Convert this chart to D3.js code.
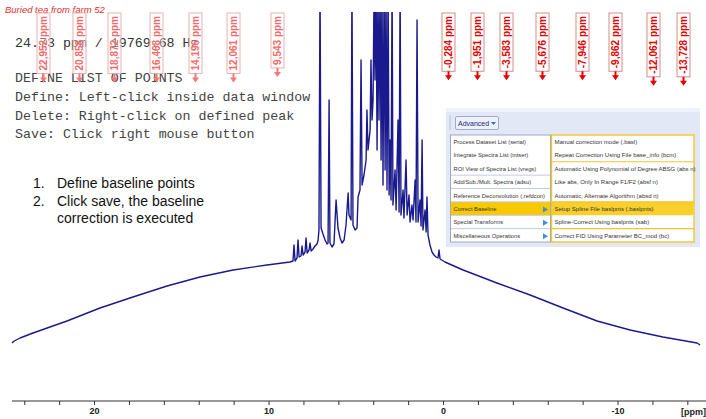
<!DOCTYPE html>
<html>
<head>
<meta charset="utf-8">
<script src="https://cdn.jsdelivr.net/npm/d3@7"></script>
<style>
	body { margin: 0; background: #fff; }
	#chart { width: 706px; height: 419px; }
	text { font-family: "Liberation Sans", Arial, sans-serif; }
	.mono { font-family: "Liberation Mono", "Courier New", monospace; }
</style>
</head>
<body>
<div id="chart"></div>
<script>
//spectrum: ppm and intensity (arbitrary units, clipped peaks given 420)
var specPpm = [24.70, 24.58, 24.24, 23.50, 21.55, 19.66, 17.77, 15.82, 13.93, 12.03, 10.09, 8.77,
	8.60, 8.54, 8.48, 8.37, 8.31, 8.25, 8.14, 8.08, 8.02, 7.91, 7.85, 7.79, 7.68, 7.62, 7.56, 7.45,
	7.34, 7.22, 7.16, 7.11, 7.05, 6.99, 6.88, 6.76, 6.65, 6.59, 6.53, 6.48, 6.36, 6.25, 6.13, 6.02,
	5.90, 5.79, 5.67, 5.56, 5.44, 5.39, 5.27, 5.22, 5.16, 5.04, 4.93, 4.87, 4.76, 4.70, 4.64, 4.53,
	4.41, 4.36, 4.30, 4.18, 4.13, 4.07, 4.01, 3.95, 3.90, 3.84, 3.78, 3.73, 3.67, 3.61, 3.55, 3.50,
	3.44, 3.38, 3.32, 3.27, 3.21, 3.15, 3.09, 3.04, 2.98, 2.92, 2.87, 2.75, 2.69, 2.58, 2.52, 2.46,
	2.41, 2.29, 2.24, 2.12, 2.06, 1.95, 1.89, 1.78, 1.72, 1.60, 1.55, 1.49, 1.43, 1.32, 1.26, 1.20,
	1.15, 1.03, 0.97, 0.92, 0.86, 0.75, 0.63, 0.52, 0.40, 0.29, 0.23, 0.17, -0.11, -1.15, -3.09,
	-4.99, -6.88, -8.83, -10.72, -12.60, -14.56, -14.73];
var specInt = [58, 60, 63, 68, 80, 93, 104, 115, 124, 131, 136, 139,
	140, 156, 140, 143, 161, 144, 145, 155, 146, 149, 163, 148, 151, 158, 150, 152,
	155, 157, 161, 171, 420, 173, 167, 161, 157, 158, 301, 158, 154, 157, 201, 173,
	163, 158, 161, 176, 208, 186, 181, 420, 176, 171, 173, 204, 211, 341, 216, 226,
	241, 291, 251, 271, 341, 281, 301, 420, 321, 420, 251, 420, 281, 420, 241, 420,
	216, 420, 231, 420, 211, 420, 206, 261, 201, 420, 196, 231, 191, 281, 189, 420,
	186, 211, 183, 241, 186, 206, 179, 196, 181, 221, 179, 381, 179, 201, 175, 261,
	171, 191, 169, 204, 166, 156, 149, 146, 144, 143, 151, 142, 139, 131, 118,
	106, 93, 80, 71, 64, 58, 56];

//peak picking markers
var leftMarkers = [22.952, 20.858, 18.872, 16.468, 14.196, 12.061, 9.543];
var rightMarkers = [-0.284, -1.951, -3.583, -5.676, -7.946, -9.862, -12.061, -13.728];

//axis
var tickPpm = [24, 22, 20, 18, 16, 14, 12, 10, 8, 6, 4, 2, 0, -2, -4, -6, -8, -10, -12, -14];
var tickLabels = [20, 10, 0, -10];

//texts
var titleText = 'Buried tea from farm 52';
var rangeText = '24.73 ppm / 19769.68 Hz';
var instructions = ['DEFINE LIST OF POINTS', 'Define: Left-click inside data window',
	'Delete: Right-click on defined peak', 'Save: Click right mouse button'];
var stepNums = ['1.', '2.', ''];
var stepLines = ['Define baseline points', 'Click save, the baseline', 'correction is executed'];

//menu screenshot
var menuLeft = ['Process Dataset List (serial)', 'Integrate Spectra List (intser)', 'ROI View of Spectra List (vregs)',
	'Add/Sub./Mult. Spectra (adsu)', 'Reference Deconvolution (.refdcon)', 'Correct Baseline',
	'Special Transforms', 'Miscellaneous Operations'];
var menuLeftSub = [5, 6, 7];
var menuLeftSep = [2, 3, 4, 5, 6];
var menuRight = ['Manual correction mode (.basl)', 'Repeat Correction Using File base_info (bcm)',
	'Automatic Using Polynomial of Degree ABSG (abs n)', 'Like abs, Only In Range F1/F2 (absf n)',
	'Automatic, Alternate Algorithm (absd n)', 'Setup Spline File baslpnts (.baslpnts)',
	'Spline-Correct Using baslpnts (sab)', 'Correct FID Using Parameter BC_mod (bc)'];
var menuRightSep = [1, 4, 6];
var menuActive = 5;

var nmrChart = function(opts){
	this.element = opts.element;
	this.draw(this.element);
}

nmrChart.prototype.draw = function(chartElement){
	this.width = 706;
	this.height = 419;
	this.top = 12;
	this.axisY = 401;

	chartElement.innerHTML = '';
	this.svg = d3.select(chartElement).append('svg')
		.attr('width', this.width)
		.attr('height', this.height);

	//ppm axis runs right to left
	this.x = d3.scaleLinear().domain([25.39, -15.07]).range([0, this.width]);
	this.y = d3.scaleLinear().domain([0, this.axisY - this.top]).range([this.axisY, this.top]);

	this.addTexts();
	this.addSpectrum();
	this.addAxis();
	this.addMarkers(leftMarkers, '#f26a6a', '#eeb0b0', '#f27a7a');
	this.addMarkers(rightMarkers, '#e40000', '#d88a8a', '#e40000');
	this.addMenu();
}

nmrChart.prototype.addTexts = function(){
	var svg = this.svg;

	svg.append('text')
		.attr('x', 5).attr('y', 13)
		.style('font-size', '9.5px').style('font-style', 'italic')
		.attr('fill', '#e03030')
		.text(titleText);

	svg.append('text')
		.attr('class', 'mono')
		.attr('x', 15).attr('y', 47)
		.style('font-size', '13.3px')
		.attr('fill', '#333')
		.text(rangeText);

	svg.selectAll('.instr').data(instructions).enter().append('text')
		.attr('class', 'mono instr')
		.attr('x', 15)
		.attr('y', function(d, i){ return 82 + i * 18.8; })
		.style('font-size', '13.3px')
		.attr('fill', '#444')
		.text(function(d){ return d; });

	svg.selectAll('.stepnum').data(stepNums).enter().append('text')
		.attr('x', 33)
		.attr('y', function(d, i){ return 188 + i * 17.5; })
		.style('font-size', '14px')
		.attr('fill', '#111')
		.text(function(d){ return d; });

	svg.selectAll('.step').data(stepLines).enter().append('text')
		.attr('x', 57)
		.attr('y', function(d, i){ return 188 + i * 17.5; })
		.style('font-size', '14px')
		.attr('fill', '#111')
		.text(function(d){ return d; });
}

nmrChart.prototype.addSpectrum = function(){
	var that = this;

	this.svg.append('defs').append('clipPath')
		.attr('id', 'specclip')
	  .append('rect')
		.attr('x', 0).attr('y', this.top)
		.attr('width', this.width).attr('height', this.axisY - this.top);

	var pts = specPpm.map(function(d, i){ return [d, specInt[i]]; });

	var line = d3.line()
		.x(function(d){ return that.x(d[0]); })
		.y(function(d){ return that.y(d[1]); });

	this.svg.append('g')
		.attr('clip-path', 'url(#specclip)')
	  .append('path')
		.datum(pts)
		.attr('d', line)
		.attr('fill', 'none')
		.attr('stroke', '#1a1a8e')
		.attr('stroke-width', 1.4)
		.attr('stroke-linejoin', 'round');
}

nmrChart.prototype.addAxis = function(){
	var axis = d3.axisBottom(this.x)
		.tickValues(tickPpm)
		.tickSize(4)
		.tickSizeOuter(0)
		.tickFormat(function(d){ return tickLabels.indexOf(d) > -1 ? String(d) : ''; });

	var g = this.svg.append('g')
		.attr('transform', 'translate(0,' + this.axisY + ')')
		.call(axis);

	g.select('.domain').remove();
	g.append('line')
		.attr('x1', this.x(specPpm[0])).attr('x2', this.width)
		.attr('stroke', '#333').attr('stroke-width', 1);
	g.selectAll('.tick line').attr('stroke', '#333');
	g.selectAll('.tick text')
		.attr('fill', '#222')
		.style('font-size', '9px')
		.style('font-weight', 'bold')
		.style('font-family', '"Liberation Sans", Arial, sans-serif');

	this.svg.append('text')
		.attr('x', 681).attr('y', 414.5)
		.style('font-size', '9px').style('font-weight', 'bold')
		.attr('fill', '#222')
		.text('[ppm]');
}

nmrChart.prototype.addMarkers = function(vals, textCol, boxCol, arrowCol){
	var that = this;
	var boxTop = 13, boxW = 13;

	var g = this.svg.append('g');

	vals.forEach(function(v){
		var cx = Math.round(that.x(v)) + 0.5;
		var m = g.append('g');
		var box = m.append('rect');
		var t = m.append('text')
			.style('font-size', '10px').style('font-weight', 'bold')
			.attr('fill', textCol)
			.text(v.toFixed(3).replace('.', ',') + ' ppm');
		var len = t.node().getComputedTextLength();
		var bottom = boxTop + len + 6;

		box.attr('x', cx - boxW / 2).attr('y', boxTop)
			.attr('width', boxW).attr('height', bottom - boxTop)
			.attr('fill', '#fff').attr('fill-opacity', 0.35)
			.attr('stroke', boxCol).attr('stroke-width', 1);
		t.attr('transform', 'translate(' + (cx + 3.6) + ',' + (bottom - 3) + ') rotate(-90)');

		m.append('line')
			.attr('x1', cx).attr('x2', cx)
			.attr('y1', bottom).attr('y2', bottom + 5)
			.attr('stroke', arrowCol).attr('stroke-width', 2);
		m.append('path')
			.attr('d', 'M' + (cx - 3.5) + ',' + (bottom + 4) + 'L' + (cx + 3.5) + ',' + (bottom + 4) + 'L' + cx + ',' + (bottom + 9) + 'Z')
			.attr('fill', arrowCol);
	});
}

nmrChart.prototype.addMenu = function(){
	var g = this.svg.append('g');
	var rowH = 13.375, top = 135;

	//panel background
	g.append('rect').attr('x', 446).attr('y', 108).attr('width', 254).attr('height', 139).attr('fill', '#e2e8f6');
	g.append('rect').attr('x', 446).attr('y', 108).attr('width', 254).attr('height', 4).attr('fill', '#eef2fb');
	g.append('line').attr('x1', 450).attr('x2', 450).attr('y1', 115).attr('y2', 130).attr('stroke', '#b8c2dc');

	//advanced button
	g.append('rect').attr('x', 455.5).attr('y', 116.5).attr('width', 43).attr('height', 13)
		.attr('fill', '#edf1fb').attr('stroke', '#9eabcb').attr('rx', 1.5);
	g.append('text').attr('x', 458).attr('y', 126).style('font-size', '7px').attr('fill', '#1a2a6a').text('Advanced');
	g.append('path').attr('d', 'M491,122L496,122L493.5,125Z').attr('fill', '#3a6ac8');

	//left menu
	g.append('rect').attr('x', 450.5).attr('y', top).attr('width', 100).attr('height', rowH * 8)
		.attr('fill', '#fff').attr('stroke', '#9ea8c6');
	g.append('rect').attr('x', 451).attr('y', top + menuActive * rowH).attr('width', 99).attr('height', rowH)
		.attr('fill', '#f8c800');
	menuLeftSep.forEach(function(i){
		g.append('line').attr('x1', 451).attr('x2', 550)
			.attr('y1', top + (i + 1) * rowH).attr('y2', top + (i + 1) * rowH)
			.attr('stroke', '#c4cbe0');
	});
	g.selectAll('.ml').data(menuLeft).enter().append('text')
		.attr('x', 453.5)
		.attr('y', function(d, i){ return top + i * rowH + 9; })
		.style('font-size', '5.8px')
		.attr('fill', '#333')
		.text(function(d){ return d; });
	menuLeftSub.forEach(function(i){
		var cy = top + i * rowH + 7.5;
		g.append('path')
			.attr('d', 'M543,' + (cy - 3) + 'L548,' + cy + 'L543,' + (cy + 3) + 'Z')
			.attr('fill', '#3d8fe0');
	});

	//right submenu
	g.append('rect').attr('x', 551.5).attr('y', top).attr('width', 142.5).attr('height', rowH * 8)
		.attr('fill', '#fff').attr('stroke', '#f2c530').attr('stroke-width', 1.4);
	g.append('rect').attr('x', 552).attr('y', top + menuActive * rowH).attr('width', 141.5).attr('height', rowH)
		.attr('fill', '#f9cf2c');
	menuRightSep.forEach(function(i){
		g.append('line').attr('x1', 552).attr('x2', 694)
			.attr('y1', top + (i + 1) * rowH).attr('y2', top + (i + 1) * rowH)
			.attr('stroke', '#f2c530').attr('stroke-width', 1.2);
	});
	g.selectAll('.mr').data(menuRight).enter().append('text')
		.attr('x', 554.5)
		.attr('y', function(d, i){ return top + i * rowH + 9; })
		.style('font-size', '6px')
		.attr('fill', '#333')
		.text(function(d){ return d; });
}

var chart = new nmrChart({ element: document.getElementById('chart') });
</script>
</body>
</html>
